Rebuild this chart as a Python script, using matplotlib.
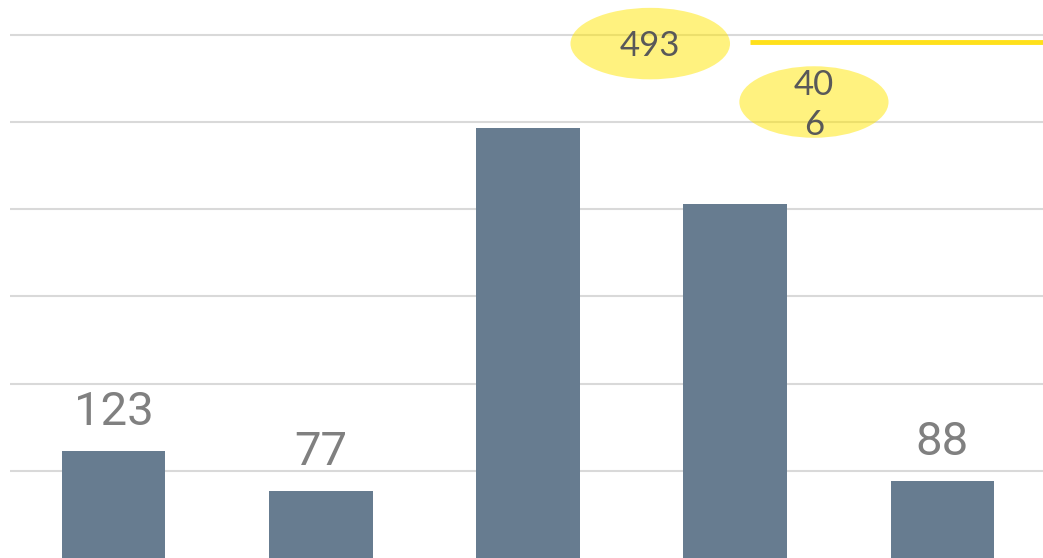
import matplotlib
matplotlib.use('Agg')
import matplotlib.pyplot as plt
from matplotlib.patches import Ellipse

categories = ['A', 'B', 'C', 'D', 'E']
values = [123, 77, 493, 406, 88]
# which bars get the highlighted (ellipse) label, and where that label sits
highlight_text = {2: '493', 3: '40\n6'}
highlight_pos = {2: (2.59, 590), 3: (3.38, 523)}
# yellow target line
target_value = 592
target_x = [3.07, 4.6]

bar_color = '#677c90'
grid_color = '#d9d9d9'

fig = plt.figure(figsize=(10.43, 5.58), dpi=100)
ax = fig.add_axes([10 / 1043, 0, 1036 / 1043, 1])

x = range(len(categories))
ax.bar(x, values, width=0.5, color=bar_color, zorder=2)

ax.set_xlim(-0.5, 4.5)
ax.set_ylim(0, 640)
ax.set_yticks([100, 200, 300, 400, 500, 600])
ax.yaxis.grid(True, color=grid_color, linewidth=1.5, zorder=0)
ax.set_axisbelow(True)
ax.tick_params(left=False, bottom=False, labelleft=False, labelbottom=False)
for s in ax.spines.values():
    s.set_visible(False)

ax.plot(target_x, [target_value, target_value], color='#ffe01b', linewidth=3.5,
        solid_capstyle='butt', zorder=3, clip_on=False)

for i, v in enumerate(values):
    if i in highlight_text:
        cx, cy = highlight_pos[i]
        w = 0.77 if i == 2 else 0.72
        ax.add_patch(Ellipse((cx, cy), w, 82, facecolor='#ffe600', alpha=0.5,
                             edgecolor='none', zorder=4))
        ax.text(cx, cy - 3, highlight_text[i], ha='center', va='center',
                fontsize=25, color='#595959', family='Lato',
                linespacing=1.3, zorder=5)
    else:
        ax.annotate(str(v), (i, v), xytext=(0, 28), textcoords='offset points',
                    ha='center', va='center', fontsize=34, color='#808080',
                    family='Roboto')

plt.savefig('out.png', dpi=100)
